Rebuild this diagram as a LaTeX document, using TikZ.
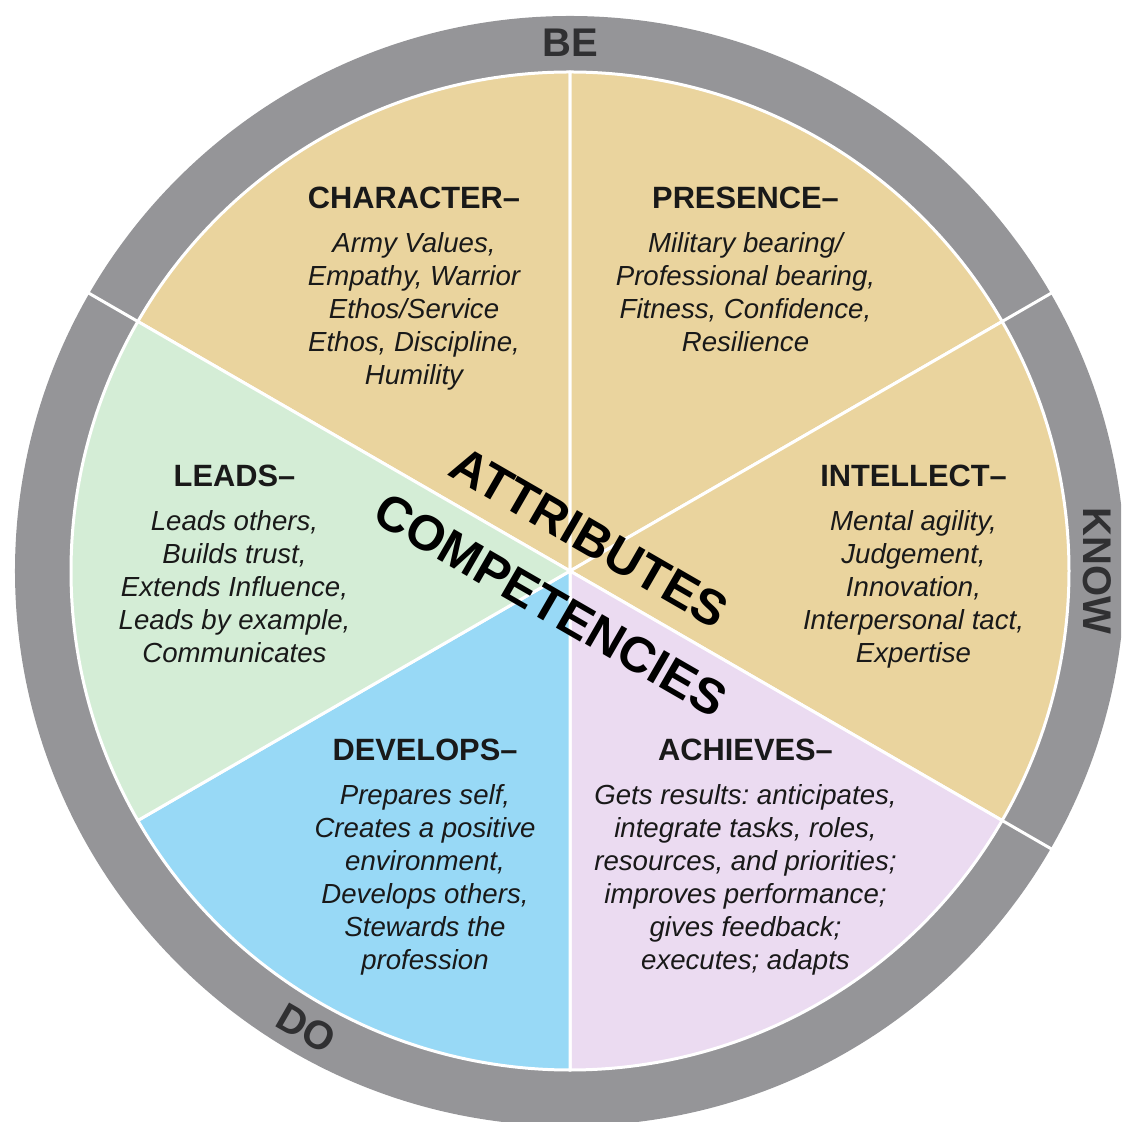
\documentclass[tikz,border=0pt]{standalone}
\usepackage{fontspec}
\setmainfont{Liberation Sans}
\usepackage{tikz}
\usetikzlibrary{positioning}
\frenchspacing

\definecolor{beige}{RGB}{234,212,158}
\definecolor{mint}{RGB}{212,237,214}
\definecolor{sky}{RGB}{152,217,246}
\definecolor{lilac}{RGB}{235,219,241}
\definecolor{ringgray}{RGB}{149,149,152}
\definecolor{ringtext}{RGB}{48,48,50}

\begin{document}
\begin{tikzpicture}[x=0.5pt,y=0.5pt,
        sector/.style={draw=white, line width=1.5pt, line join=round},
        sep/.style={white, line width=1.5pt},
        head/.style={font=\fontsize{15.4}{18}\selectfont\bfseries, text=black!90, inner sep=0pt},
        body/.style={font=\fontsize{13.8}{16.5}\selectfont\itshape, text=black!90, align=center, inner sep=0pt},
        big/.style={font=\fontsize{24.8}{28}\selectfont\bfseries, inner sep=0pt, rotate=-30},
        ringlabel/.style={font=\fontsize{20}{24}\selectfont\bfseries, text=ringtext, inner sep=0pt}]
        \useasboundingbox (-570,-551) rectangle (551,571);
        \clip (-570,-551) rectangle (551,571);

        \coordinate (o) at (0,0);

        % outer ring
        \fill[ringgray] (o) circle (555);
        \draw[sep] (30:498) -- (30:560);
        \draw[sep] (150:498) -- (150:560);
        \draw[sep] (-30:498) -- (-30:560);

        % six sectors
        \filldraw[sector, fill=beige] (o) -- (90:499) arc (90:150:499) -- cycle;
        \filldraw[sector, fill=beige] (o) -- (30:499) arc (30:90:499) -- cycle;
        \filldraw[sector, fill=beige] (o) -- (-30:499) arc (-30:30:499) -- cycle;
        \filldraw[sector, fill=lilac] (o) -- (-90:499) arc (-90:-30:499) -- cycle;
        \filldraw[sector, fill=sky] (o) -- (210:499) arc (210:270:499) -- cycle;
        \filldraw[sector, fill=mint] (o) -- (150:499) arc (150:210:499) -- cycle;

        \node[ringlabel] (be) at (90:528) {BE};
        \node[ringlabel, rotate=-90] (know) at (0:527) {KNOW};
        \node[ringlabel, rotate=-30] (do) at (240:528) {DO};

        \node[big] (attr) at (60:39) {ATTRIBUTES};
        \node[big] (comp) at (240:39) {COMPETENCIES};

        \node[head] (char-h) at (-156,373) {CHARACTER--};
        \node[body, below=11.5pt of char-h] (char-b) {Army Values,\\Empathy, Warrior\\Ethos/Service\\Ethos, Discipline,\\Humility};

        \node[head] (pres-h) at (175.5,373) {PRESENCE--};
        \node[body, below=11.5pt of pres-h] (pres-b) {Military bearing/\\Professional bearing,\\Fitness, Confidence,\\Resilience};

        \node[head] (lead-h) at (-335.5,95) {LEADS--};
        \node[body, below=11.5pt of lead-h] (lead-b) {Leads others,\\Builds trust,\\Extends Influence,\\Leads by example,\\Communicates};

        \node[head] (intl-h) at (343.5,95) {INTELLECT--};
        \node[body, below=11.5pt of intl-h] (intl-b) {Mental agility,\\Judgement,\\Innovation,\\Interpersonal tact,\\Expertise};

        \node[head] (dev-h) at (-145,-179) {DEVELOPS--};
        \node[body, below=11.5pt of dev-h] (dev-b) {Prepares self,\\Creates a positive\\environment,\\Develops others,\\Stewards the\\profession};

        \node[head] (ach-h) at (175.5,-179) {ACHIEVES--};
        \node[body, below=11.5pt of ach-h] (ach-b) {Gets results: anticipates,\\integrate tasks, roles,\\resources, and priorities;\\improves performance;\\gives feedback;\\executes; adapts};
    \end{tikzpicture}
\end{document}
